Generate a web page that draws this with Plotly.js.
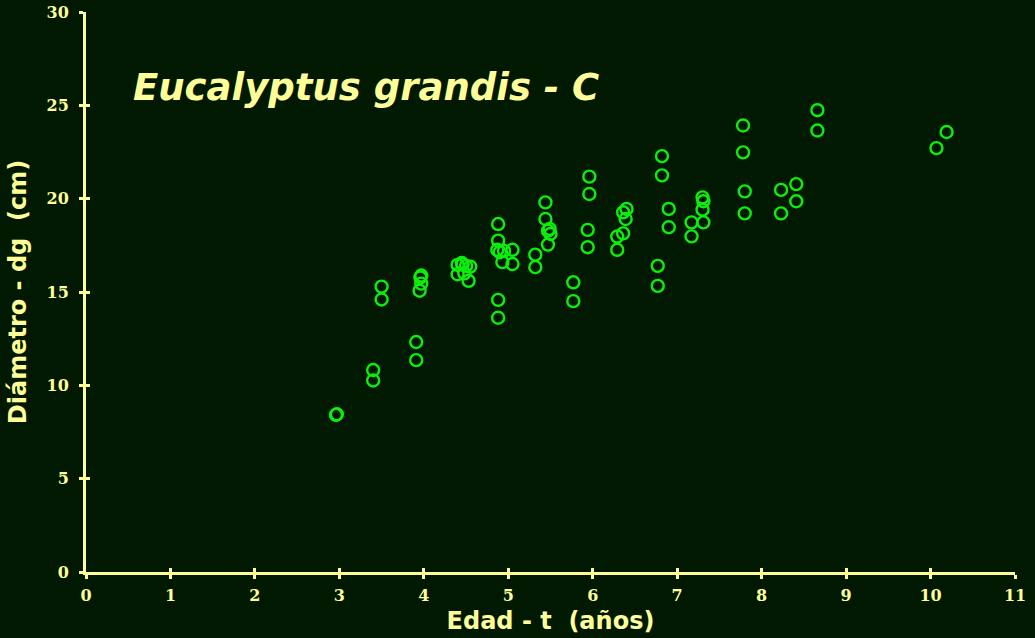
<!DOCTYPE html>
<html>
<head>
<meta charset="utf-8">
<script src="https://cdn.plot.ly/plotly-3.0.1.min.js"></script>
<style>html,body{margin:0;padding:0;background:#001900;}</style>
</head>
<body>
<div id="chart" style="width:1035px;height:638px;"></div>
<script>
// Edad (años)
const ages = [
  2.96, 2.97, 3.40, 3.40, 3.50, 3.50, 3.91, 3.91, 3.95, 3.97, 3.97, 3.96,
  4.40, 4.45, 4.40, 4.50, 4.48, 4.53, 4.55, 4.46,
  4.88, 4.88, 4.87, 4.90, 4.93, 4.95, 5.05, 5.05, 4.88, 4.88,
  5.32, 5.32, 5.44, 5.44, 5.49, 5.47, 5.50, 5.47,
  5.77, 5.77, 5.96, 5.96, 5.94, 5.94,
  6.40, 6.36, 6.39, 6.36, 6.29, 6.29,
  6.77, 6.77, 6.82, 6.82, 6.90, 6.90,
  7.17, 7.17, 7.30, 7.31, 7.30, 7.31,
  7.78, 7.78, 7.80, 7.80, 8.23, 8.23, 8.41, 8.41, 8.66, 8.66,
  10.07, 10.19
];
// Diámetro dg (cm)
const diameters = [
  8.42, 8.45, 10.82, 10.26, 15.29, 14.60, 12.32, 11.35, 15.07, 15.45, 15.88, 15.78,
  16.45, 16.55, 15.95, 16.40, 16.00, 15.60, 16.36, 16.50,
  18.64, 17.75, 17.26, 17.13, 16.60, 17.20, 17.26, 16.50, 14.58, 13.62,
  17.00, 16.33, 19.80, 18.91, 18.38, 18.28, 18.11, 17.54,
  15.52, 14.51, 21.18, 20.25, 18.33, 17.40,
  19.45, 19.27, 18.91, 18.14, 17.97, 17.26,
  16.40, 15.33, 22.28, 21.25, 19.45, 18.47,
  18.73, 17.98, 20.07, 19.86, 19.41, 18.73,
  23.92, 22.48, 20.39, 19.21, 20.47, 19.21, 20.78, 19.86, 24.74, 23.65,
  22.71, 23.57
];
const xTicks = [0,1,2,3,4,5,6,7,8,9,10,11];
const yTicks = [0,5,10,15,20,25,30];
const chartTitle = 'Eucalyptus grandis - C';
const xTitle = 'Edad - t \u00a0(años)';
const yTitle = 'Diámetro - dg \u00a0(cm)';

const axisColor = '#FFFF99';
const bg = '#001900';

const traces = [
  {
    x: ages, y: diameters, type: 'scatter', mode: 'markers',
    marker: {symbol: 'circle-open', size: 12, color: '#0CEE0C', line: {width: 2.4, color: '#0CEE0C'}},
    hoverinfo: 'x+y', showlegend: false
  },
  {x: [], y: [], xaxis: 'x2', yaxis: 'y2', type: 'scatter', mode: 'markers', showlegend: false}
];

const tickFont = {family: 'DejaVu Serif', size: 16, color: axisColor, weight: 'bold'};
const titleFont = {family: 'DejaVu Sans', size: 24, color: axisColor, weight: 'bold'};

const layout = {
  width: 1035, height: 638,
  paper_bgcolor: bg, plot_bgcolor: bg,
  margin: {l: 86, r: 20, t: 12, b: 66, pad: 0},
  showlegend: false,
  title: {
    text: chartTitle,
    font: {family: 'DejaVu Sans', size: 37, color: axisColor, weight: 'bold', style: 'italic'},
    xref: 'container', yref: 'container',
    x: 133/1035, xanchor: 'left',
    y: 1 - 87/638, yanchor: 'middle'
  },
  xaxis: {
    range: [0, 11], tickmode: 'array', tickvals: xTicks, ticktext: xTicks.map(String),
    showline: true, linecolor: axisColor, linewidth: 3,
    ticks: 'outside', ticklen: 4, tickwidth: 3, tickcolor: axisColor,
    showgrid: false, zeroline: false,
    tickfont: tickFont, ticklabelstandoff: 3,
    title: {text: xTitle, font: titleFont, standoff: 8}
  },
  yaxis: {
    range: [0, 30], tickmode: 'array', tickvals: yTicks, ticktext: yTicks.map(String),
    showline: true, linecolor: axisColor, linewidth: 3,
    ticks: 'outside', ticklen: 4, tickwidth: 3, tickcolor: axisColor,
    showgrid: false, zeroline: false,
    tickfont: tickFont, ticklabelstandoff: 7,
    title: {text: yTitle, font: titleFont, standoff: 14}
  },
  xaxis2: {
    overlaying: 'x', anchor: 'y2', range: [0, 11], tickmode: 'array', tickvals: xTicks,
    showticklabels: false, ticks: 'inside', ticklen: 4, tickwidth: 3, tickcolor: axisColor,
    showline: false, showgrid: false, zeroline: false
  },
  yaxis2: {
    overlaying: 'y', anchor: 'x2', range: [0, 30], tickmode: 'array', tickvals: yTicks,
    showticklabels: false, ticks: 'inside', ticklen: 4, tickwidth: 3, tickcolor: axisColor,
    showline: false, showgrid: false, zeroline: false
  }
};

Plotly.newPlot('chart', traces, layout, {displayModeBar: false, staticPlot: true});
</script>
</body>
</html>
